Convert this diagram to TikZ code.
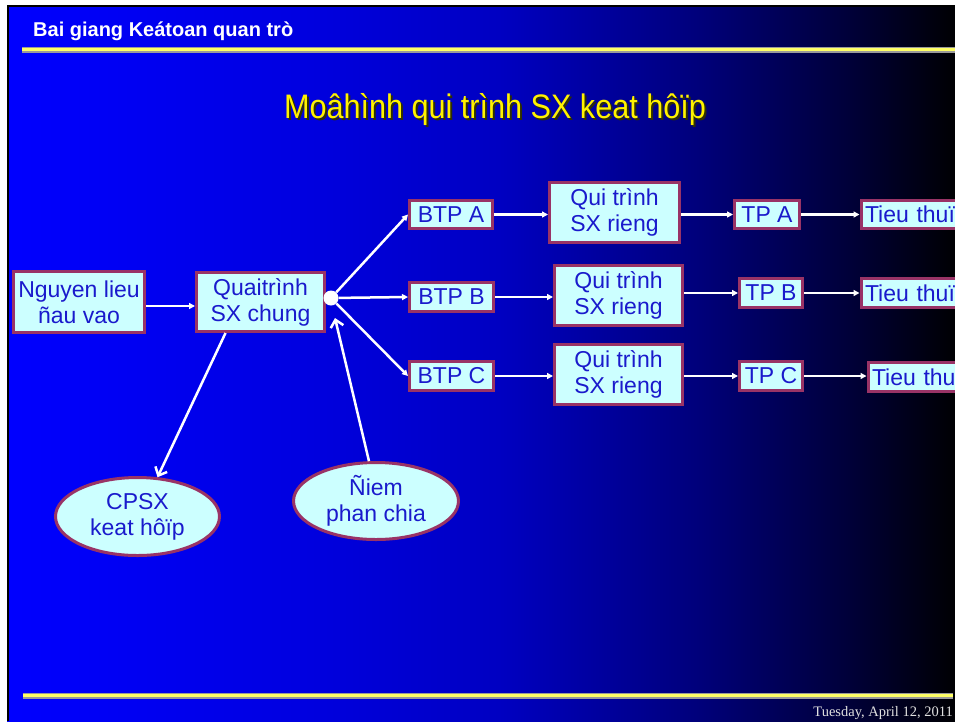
\documentclass[tikz,border=0pt]{standalone}
\usepackage{fontspec}
\setmainfont{Liberation Sans}
\newfontfamily\titlefont{Liberation Sans}[FakeStretch=0.9]
\newfontfamily\datefont{Liberation Serif}
\usetikzlibrary{arrows.meta,shapes.geometric}
\definecolor{boxfill}{HTML}{CCFFFF}
\definecolor{boxedge}{HTML}{993366}
\definecolor{boxtext}{HTML}{1A1ACC}
\definecolor{ruleyellow}{HTML}{FFFF66}
\definecolor{rulegray}{HTML}{9A9A9A}
\definecolor{shadowcol}{HTML}{303000}
\definecolor{datecol}{HTML}{E0E0E0}
% slide background: bright blue on the left fading to black on the right
% (the filled area spans the central 25bp--75bp of the shading)
\pgfdeclarehorizontalshading{slidebg}{100bp}{rgb(0bp)=(0,0,1); rgb(25bp)=(0,0,1); rgb(40.5bp)=(0,0,0.88); rgb(51bp)=(0,0,0.76); rgb(61.5bp)=(0,0,0.48); rgb(69.5bp)=(0,0,0.22); rgb(75bp)=(0,0,0.01); rgb(100bp)=(0,0,0)}
\begin{document}
\begin{tikzpicture}[x=1pt,y=-1pt,
  box/.style={draw=boxedge, line width=3pt, fill=boxfill, text=boxtext,
    font=\fontsize{23}{26}\selectfont, align=center, inner sep=0pt},
  oval/.style={box, ellipse},
  flow/.style={draw=white, line width=2.5pt, -{Triangle[length=6pt,width=6pt]}},
  vflow/.style={draw=white, line width=2.5pt, -{Straight Barb[length=7pt,width=13pt]}}]
\useasboundingbox (0,0) rectangle (955,721);
\fill[white] (0,0) rectangle (955,721);
\shade[shading=slidebg] (7,5) rectangle (955,721);
\fill[black] (7,5) rectangle (9,721);
\fill[black] (7,5) rectangle (955,7);

% header and footer rules
\fill[rulegray] (22,47) rectangle (955,48);
\fill[ruleyellow] (22,48) rectangle (955,50.5);
\fill[rulegray] (22,50.5) rectangle (955,52.5);
\fill[rulegray] (23,693) rectangle (953,694);
\fill[ruleyellow] (23,694) rectangle (953,696.8);
\fill[rulegray] (23,697.2) rectangle (953,699.3);

% header, title and date
\node[anchor=base west, text=white, font=\bfseries\fontsize{20}{24}\selectfont, inner sep=0pt]
  (hdr) at (33,36) {Bai giang Keátoan quan trò};
\node[anchor=base, text=shadowcol, font=\titlefont\fontsize{34}{40}\selectfont, inner sep=0pt]
  (titleshadow) at (497,120) {Moâhình qui trình SX keat hôïp};
\node[anchor=base, text=yellow, font=\titlefont\fontsize{34}{40}\selectfont, inner sep=0pt]
  (title) at (495,118) {Moâhình qui trình SX keat hôïp};
\node[anchor=base east, text=datecol, font=\datefont\fontsize{14.5}{17}\selectfont, inner sep=0pt]
  (date) at (953,716) {Tuesday, April 12, 2011};

% common process
\node[box, minimum width=131pt, minimum height=61pt] (nguyen) at (79,302) {Nguyen lieu\\ñau vao};
\node[box, minimum width=128pt, minimum height=59pt] (qua) at (260.5,302) {Quaitrình\\SX chung};
\node[circle, fill=white, minimum size=15pt, inner sep=0pt] (hub) at (331,298) {};

% row A
\node[box, minimum width=83pt, minimum height=28pt] (btpA) at (451,214.5) {BTP A};
\node[box, minimum width=130pt, minimum height=60pt] (quiA) at (614.5,212.5) {Qui trình\\SX rieng};
\node[box, minimum width=65pt, minimum height=28pt] (tpA) at (767,214.5) {TP A};
\node[box, anchor=west, minimum height=28pt, inner xsep=4pt, text width=100pt, align=left] (tieuA) at (859.5,214.5) {Tieu thuï};

% row B
\node[box, minimum width=84pt, minimum height=29pt] (btpB) at (451.5,297) {BTP B};
\node[box, minimum width=128pt, minimum height=60pt] (quiB) at (618.5,295.5) {Qui trình\\SX rieng};
\node[box, minimum width=63pt, minimum height=29pt] (tpB) at (771,293) {TP B};
\node[box, anchor=west, minimum height=29pt, inner xsep=4pt, text width=100pt, align=left] (tieuB) at (859.5,293) {Tieu thuï};

% row C
\node[box, minimum width=84pt, minimum height=29pt] (btpC) at (451.5,376) {BTP C};
\node[box, minimum width=128pt, minimum height=60pt] (quiC) at (618.5,374.5) {Qui trình\\SX rieng};
\node[box, minimum width=63pt, minimum height=29pt] (tpC) at (771,376) {TP C};
\node[box, anchor=west, minimum height=29pt, inner xsep=4pt, text width=100pt, align=left] (tieuC) at (866.5,377) {Tieu thuï};

% ovals
\node[oval, minimum width=164pt, minimum height=78pt] (cpsx) at (137.5,516.5) {CPSX\\keat hôïp};
\node[oval, minimum width=165pt, minimum height=77pt] (diem) at (376,501) {Ñiem\\phan chia};
\coordinate (hubin) at (335,318);

% connectors
\draw[flow] ([yshift=-4pt]nguyen.east) -- ([yshift=-4pt]qua.west);
\draw[flow] (hub) -- (btpA.west);
\draw[flow] (hub) -- (btpB.west);
\draw[flow] (hub) -- (btpC.west);
\draw[vflow] ([xshift=-35pt]qua.south) -- (cpsx.63);
\draw[vflow] (diem.100) -- (hubin);

\draw[flow] (btpA.east) -- (btpA.east -| quiA.west);
\draw[flow] (quiA.east |- tpA.west) -- (tpA.west);
\draw[flow] (tpA.east) -- (tpA.east -| tieuA.west);

\draw[flow] (btpB.east) -- (btpB.east -| quiB.west);
\draw[flow] (quiB.east |- tpB.west) -- (tpB.west);
\draw[flow] (tpB.east) -- (tpB.east -| tieuB.west);

\draw[flow] (btpC.east) -- (btpC.east -| quiC.west);
\draw[flow] (quiC.east |- tpC.west) -- (tpC.west);
\draw[flow] (tpC.east) -- (tpC.east -| tieuC.west);
\end{tikzpicture}
\end{document}
